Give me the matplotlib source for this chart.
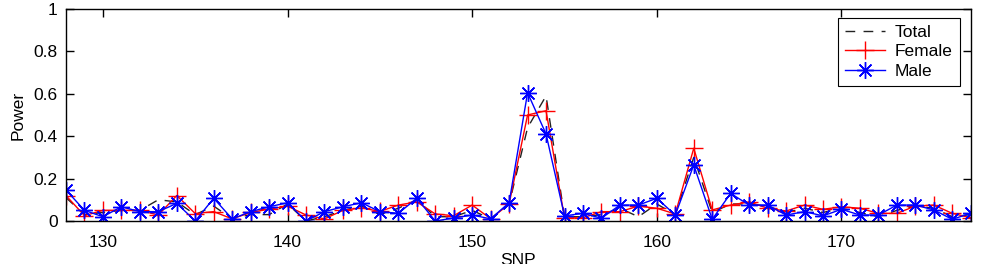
import matplotlib.pyplot as plt

plt.rcParams['font.family'] = ['Liberation Sans', 'DejaVu Sans']

snp = list(range(128, 178))
total = [0.11, 0.03, 0.04, 0.05, 0.05, 0.10, 0.09, 0.03, 0.07, 0.01,
         0.03, 0.03, 0.08, 0.00, 0.02, 0.05, 0.07, 0.03, 0.06, 0.10,
         0.02, 0.02, 0.05, 0.01, 0.08, 0.44, 0.59, 0.02, 0.02, 0.03,
         0.06, 0.02, 0.08, 0.03, 0.30, 0.04, 0.08, 0.08, 0.07, 0.04,
         0.06, 0.04, 0.06, 0.04, 0.02, 0.05, 0.07, 0.06, 0.02, 0.03]
female = [0.12, 0.025, 0.05, 0.05, 0.05, 0.028, 0.12, 0.035, 0.044, 0.01,
          0.04, 0.056, 0.07, 0.028, 0.01, 0.05, 0.062, 0.045, 0.075, 0.09,
          0.033, 0.025, 0.075, 0.01, 0.08, 0.50, 0.52, 0.015, 0.015, 0.044,
          0.044, 0.07, 0.06, 0.033, 0.343, 0.052, 0.075, 0.09, 0.06, 0.047,
          0.075, 0.055, 0.067, 0.06, 0.036, 0.036, 0.07, 0.075, 0.036, 0.015]
male = [0.146, 0.05, 0.02, 0.067, 0.044, 0.044, 0.083, 0.0, 0.107, 0.01,
        0.044, 0.067, 0.086, 0.0, 0.044, 0.067, 0.086, 0.044, 0.036, 0.107,
        0.0, 0.014, 0.028, 0.01, 0.086, 0.605, 0.41, 0.024, 0.036, 0.013,
        0.075, 0.075, 0.107, 0.028, 0.264, 0.008, 0.13, 0.075, 0.075, 0.028,
        0.044, 0.024, 0.055, 0.028, 0.028, 0.075, 0.075, 0.052, 0.008, 0.036]

fig = plt.figure(figsize=(9.82, 2.64), dpi=100)
ax = fig.add_axes([0.0672, 0.163, 0.9213, 0.803])

ax.plot(snp, total, color='#222222', ls='--', dashes=(7, 6), lw=1.0, label='Total')
ax.plot(snp, female, color='#ff0000', marker='+', ms=13, mew=1.0, lw=1.0, label='Female')
ax.plot(snp, male, color='#0000ff', marker=(8, 2, 0), ms=12, mew=1.0, lw=1.0, label='Male')

ax.set_xlim(128, 177)
ax.set_ylim(0, 1)
ax.set_xticks([130, 140, 150, 160, 170])
ax.set_yticks([0, 0.2, 0.4, 0.6, 0.8, 1])
ax.set_yticklabels(['0', '0.2', '0.4', '0.6', '0.8', '1'])
ax.tick_params(direction='in', top=True, right=True, length=6, width=1, labelsize=12.5)
ax.tick_params(axis='x', pad=10)
ax.tick_params(axis='y', pad=6)
for s in ax.spines.values():
    s.set_linewidth(1.0)

ax.set_xlabel('SNP', fontsize=12.5, labelpad=2)
ax.set_ylabel('Power', fontsize=12.5, labelpad=6)

leg = ax.legend(loc='upper right', bbox_to_anchor=(0.988, 0.958), borderaxespad=0,
                fontsize=12.5, frameon=True, fancybox=False, edgecolor='black',
                framealpha=1, handlelength=2.3, handletextpad=0.6, borderpad=0.4,
                labelspacing=0.25)
leg.get_frame().set_linewidth(0.8)

fig.savefig('out.png', dpi=100)
